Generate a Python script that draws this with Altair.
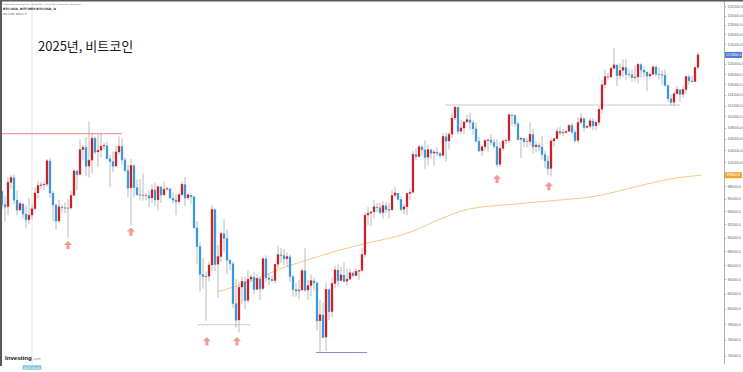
import altair as alt
import pandas as pd

# ---------------- data (daily BTC/USD, thousands of USD) ----------------
start_date = "2024-12-22"
first_open = 97.2
closes = [
    # Dec 22-31
    95.1, 94.7, 98.6, 99.4, 95.8, 94.2, 95.2, 93.6, 92.7, 93.4,
    # Jan
    94.4, 96.9, 98.1, 98.2, 98.3, 102.2, 96.9, 95.0, 92.5, 94.7,
    94.6, 94.5, 94.5, 96.5, 100.5, 99.9, 104.1, 104.5, 101.3, 102.3,
    106.1, 103.7, 104.0, 104.7, 104.8, 102.6, 102.1, 101.3, 103.7, 104.7, 102.4,
    # Feb
    100.6, 97.7, 101.4, 97.8, 96.6, 96.6, 96.5, 96.5, 96.1, 97.4,
    95.8, 97.9, 96.6, 97.5, 97.6, 96.1, 95.8, 95.5, 96.6, 98.3,
    96.1, 96.6, 96.3, 91.5, 88.7, 84.7, 84.4, 84.4,
    # Mar
    86.0, 94.3, 86.1, 87.2, 90.6, 89.9, 86.7, 86.2, 80.7, 78.5,
    82.9, 83.7, 81.1, 84.0, 84.3, 82.6, 84.1, 82.7, 86.9, 84.2,
    84.0, 83.8, 86.1, 87.5, 87.4, 86.9, 87.2, 84.4, 82.6, 82.4, 82.5,
    # Apr
    85.2, 82.5, 83.1, 83.8, 83.5, 78.4, 79.2, 76.3, 82.6, 79.6,
    83.4, 85.3, 83.8, 84.6, 83.7, 84.0, 84.9, 84.5, 85.1, 85.2,
    87.5, 93.4, 93.7, 93.9, 94.7, 94.6, 93.8, 94.9, 94.3, 94.2,
    # May
    96.5, 96.9, 95.9, 94.3, 94.7, 96.8, 97.0, 103.3, 102.9, 104.6,
    104.1, 102.8, 104.1, 103.5, 103.7, 103.5, 103.1, 106.4, 105.6, 106.8,
    109.7, 111.7, 107.3, 107.9, 109.0, 109.4, 108.9, 107.8, 105.6, 103.9, 104.6,
    # Jun
    105.7, 105.8, 105.4, 104.7, 101.6, 104.3, 105.6, 105.7, 110.3, 110.2,
    108.7, 105.9, 106.1, 105.5, 105.5, 106.8, 104.6, 104.9, 104.6, 103.3,
    102.2, 100.9, 105.6, 106.0, 107.3, 107.0, 107.1, 107.3, 108.4, 107.2,
    # Jul
    105.7, 108.9, 109.6, 108.0, 108.2, 109.2, 108.3, 108.9, 111.3, 115.9,
    117.5, 117.4, 119.1, 119.8, 117.7, 118.7, 119.3, 117.9, 117.9, 117.3,
    117.4, 119.9, 118.8, 118.4, 117.6, 117.9, 119.4, 118.0, 117.9, 117.8, 115.8,
    # Aug 1-11
    113.3, 112.6, 114.2, 115.0, 114.1, 115.0, 117.5, 116.7, 116.5, 119.3, 121.8,
]
highs = [
    97.4, 96.4, 99.4, 99.9, 99.9, 97.3, 95.5, 95.2, 94.9, 96.1,
    95.0, 97.8, 98.9, 98.7, 98.8, 102.5, 102.7, 97.2, 95.3, 95.8,
    95.0, 95.4, 95.9, 97.3, 100.7, 100.8, 105.9, 104.9, 106.3, 109.1,
    107.1, 106.4, 106.8, 107.1, 105.3, 105.5, 103.2, 103.8, 104.8, 106.4, 106.1,
    102.8, 101.5, 102.5, 101.7, 99.1, 99.2, 100.1, 96.9, 97.3, 98.3,
    98.5, 98.1, 98.0, 98.7, 97.9, 97.7, 97.0, 96.7, 96.9, 98.8,
    99.5, 96.9, 96.6, 96.5, 92.5, 89.3, 87.0, 85.1,
    86.5, 95.0, 94.4, 88.9, 90.9, 92.8, 91.2, 86.9, 86.5, 84.0,
    83.6, 84.4, 84.3, 85.3, 84.7, 85.0, 84.7, 84.1, 87.0, 87.4,
    84.8, 84.5, 86.2, 88.8, 88.5, 88.3, 87.8, 87.5, 84.6, 83.5, 83.9,
    85.5, 88.5, 83.9, 84.7, 84.2, 83.7, 81.2, 80.8, 83.5, 82.7,
    84.2, 85.9, 86.1, 85.8, 86.4, 85.5, 85.5, 85.1, 85.6, 85.3,
    88.5, 93.8, 94.7, 94.0, 95.8, 95.3, 95.3, 95.6, 95.5, 95.3,
    97.4, 97.9, 96.9, 96.3, 95.2, 96.9, 97.6, 103.9, 104.3, 104.9,
    104.9, 105.7, 104.9, 104.3, 104.1, 104.5, 103.7, 107.0, 107.1, 107.2,
    110.7, 111.9, 111.8, 109.4, 109.0, 110.4, 110.7, 109.3, 108.9, 106.3, 104.9,
    105.9, 105.9, 106.8, 106.0, 105.9, 105.4, 105.9, 106.0, 110.5, 110.4,
    110.4, 109.0, 106.2, 106.2, 106.1, 108.9, 107.7, 105.6, 105.3, 106.5,
    103.9, 103.1, 106.1, 106.3, 108.0, 108.2, 107.8, 107.6, 108.5, 108.8,
    107.6, 109.8, 110.6, 109.8, 108.4, 109.7, 109.7, 109.2, 111.9, 116.8,
    118.9, 118.2, 119.5, 123.2, 119.9, 120.1, 120.9, 120.9, 118.9, 118.9,
    119.7, 120.2, 120.1, 119.5, 118.5, 118.3, 119.8, 119.8, 119.3, 118.8, 118.9,
    116.1, 114.0, 114.7, 115.7, 115.1, 115.7, 117.6, 117.9, 117.7, 119.3, 122.3,
]
lows = [
    94.2, 92.4, 93.4, 97.6, 95.1, 93.4, 94.0, 92.9, 91.4, 92.0,
    92.8, 94.2, 96.1, 97.5, 97.3, 97.9, 96.1, 92.5, 91.2, 92.2,
    93.8, 93.7, 90.0, 94.3, 96.5, 97.3, 99.9, 102.3, 99.6, 99.4,
    100.1, 103.3, 101.2, 102.8, 104.1, 102.4, 97.8, 100.3, 101.3, 103.3, 101.5,
    100.3, 96.2, 91.8, 96.2, 96.5, 95.7, 95.7, 95.7, 94.7, 95.3,
    94.9, 94.1, 95.3, 96.4, 97.3, 96.1, 95.2, 93.4, 95.1, 96.4,
    94.8, 95.8, 95.2, 91.3, 86.1, 82.3, 82.7, 78.4,
    83.7, 85.1, 85.1, 81.5, 86.4, 87.9, 84.7, 85.3, 80.1, 77.5,
    76.9, 80.6, 79.9, 80.8, 83.6, 82.0, 82.5, 81.2, 82.5, 83.6,
    83.2, 83.7, 83.4, 85.5, 86.3, 85.9, 85.8, 83.6, 81.6, 81.6, 81.3,
    82.4, 82.3, 81.2, 81.7, 82.4, 77.2, 74.5, 76.2, 74.6, 78.5,
    78.9, 82.8, 83.0, 83.7, 83.6, 83.1, 83.9, 84.3, 84.4, 83.9,
    85.1, 87.1, 91.9, 91.7, 92.9, 93.9, 93.6, 92.9, 93.7, 92.9,
    94.1, 96.3, 95.7, 94.1, 93.5, 93.4, 95.8, 96.9, 102.3, 102.8,
    103.1, 100.8, 101.4, 102.6, 101.4, 103.1, 102.6, 102.9, 102.1, 104.2,
    106.2, 109.3, 106.8, 106.9, 106.8, 108.7, 107.5, 106.7, 105.4, 103.7, 103.1,
    103.9, 103.7, 104.9, 104.2, 101.2, 101.2, 103.9, 105.0, 105.3, 108.4,
    108.1, 105.7, 102.7, 104.5, 104.5, 104.9, 103.4, 103.6, 103.9, 102.4,
    101.0, 99.8, 99.6, 104.7, 105.9, 106.6, 106.4, 106.9, 107.2, 106.8,
    105.3, 105.2, 108.6, 107.3, 107.8, 107.8, 107.5, 107.5, 108.4, 110.6,
    115.2, 116.9, 117.2, 118.9, 115.7, 117.0, 117.4, 116.8, 117.3, 116.5,
    116.5, 116.1, 117.3, 117.4, 114.7, 117.2, 117.9, 117.5, 116.9, 115.9, 115.6,
    112.7, 112.0, 111.9, 114.1, 112.7, 113.4, 114.3, 115.9, 116.4, 116.5, 118.9,
]

# 200-day moving average (day offset from 2025-01-01, price k)
ma_days = [62, 70, 83, 96, 109, 117, 126, 136, 145, 160, 174, 188, 202, 213, 223]
ma_vals = [82.3, 83.3, 85.5, 87.3, 88.9, 89.7, 90.8, 92.8, 94.3, 95.1, 95.7, 96.4, 98.0, 99.2, 99.8]

# drawn horizontal levels: (from day, to day, price k, colour)
levels_from = [-10.3, 137.7, 55.3, 94.7]
levels_to = [30.0, 216.0, 72.7, 111.7]
levels_price = [106.9, 112.1, 77.9, 74.4]
levels_color = ["#f0837c", "#c9c9c9", "#c8c6f0", "#8f8ad8"]

# up-arrow markers (day offset, price k)
arrow_days = [12.0, 33.0, 58.3, 68.3, 155.0, 172.3]
arrow_prices = [88.9, 90.9, 75.8, 75.8, 99.2, 98.0]

# right-axis labels (the two covered by the price tags are left out)
y_ticks = [v for v in range(74000, 132001, 2000) if v not in (100000, 122000)]

# ---------------- tables ----------------
dates = pd.date_range(start_date, periods=len(closes), freq="D")
opens = [first_open] + closes[:-1]
day = (dates - pd.Timestamp("2025-01-01")).days
df = pd.DataFrame({
    "day": day,
    "date": dates.strftime("%Y-%m-%d"),
    "open": [v * 1000 for v in opens],
    "close": [v * 1000 for v in closes],
    "high": [max(h, o, c) * 1000 for h, o, c in zip(highs, opens, closes)],
    "low": [min(l, o, c) * 1000 for l, o, c in zip(lows, opens, closes)],
})
df["dir"] = ["up" if c >= o else "down" for o, c in zip(df["open"], df["close"])]

ma_df = pd.DataFrame({"day": ma_days, "ma": [v * 1000 for v in ma_vals]})
lv_df = pd.DataFrame({"d1": levels_from, "d2": levels_to,
                      "p": [v * 1000 for v in levels_price], "c": levels_color})
ar_df = pd.DataFrame({"day": arrow_days, "p": [v * 1000 for v in arrow_prices]})

W, H = 724, 364
xs = alt.Scale(domain=[-32 / 3, 692 / 3], nice=False, zero=False, padding=0)
ys = alt.Scale(type="log", domain=[73000, 133400], nice=False, zero=False, padding=0)

base = alt.Chart(df)

yaxis = alt.Axis(orient="right", values=y_ticks, format=".1f", title=None,
                 labelFontSize=3.7, labelColor="#666", labelFont="Liberation Sans",
                 domainColor="#b0b0b0", tickColor="#b0b0b0", tickSize=1.5,
                 labelPadding=1.5, grid=False, zindex=0)

vline = alt.Chart(pd.DataFrame({"day": [0]})).mark_rule(color="#d4eef2", strokeWidth=1).encode(
    x=alt.X("day:Q", scale=xs, axis=None), y=alt.value(0), y2=alt.value(H))

wicks = base.mark_rule(color="#a8a8a8", strokeWidth=0.8).encode(
    x=alt.X("day:Q", scale=xs, axis=alt.Axis(orient="bottom", labels=False, ticks=False,
                                             domainColor="#cfcfcf", title=None, grid=False)),
    y=alt.Y("low:Q", scale=ys, axis=yaxis),
    y2="high:Q",
)
cscale = alt.Scale(domain=["up", "down"], range=["#c8232b", "#3d98d8"])
bodies = base.mark_bar(width=2.3).encode(
    x="day:Q", y="open:Q", y2="close:Q",
    color=alt.Color("dir:N", scale=cscale, legend=None),
)
dojis = base.mark_tick(orient="horizontal", size=2.3, thickness=0.8).encode(
    x="day:Q", y="close:Q", color=alt.Color("dir:N", scale=cscale, legend=None))

ma_line = alt.Chart(ma_df).mark_line(color="#f6c98a", strokeWidth=1, interpolate="monotone").encode(
    x="day:Q", y="ma:Q")

levels = alt.Chart(lv_df).mark_rule(strokeWidth=1).encode(
    x="d1:Q", x2="d2:Q", y="p:Q", color=alt.Color("c:N", scale=None))

arrow_path = "M0,-1 L1,0 L0.38,0 L0.38,1 L-0.38,1 L-0.38,0 L-1,0 Z"
arrows = alt.Chart(ar_df).mark_point(shape=arrow_path, filled=True, size=70,
                                     color="#f29b9b", opacity=1).encode(x="day:Q", y="p:Q")

# price labels on the axis
last_close = closes[-1] * 1000
last_ma = ma_vals[-1] * 1000
tags = pd.DataFrame({"p": [last_close, last_ma],
                     "t": [f"{last_close:.1f}", f"{last_ma:.1f}"],
                     "c": ["#4b78de", "#f4a42c"]})
tag_box = alt.Chart(tags).mark_tick(orient="horizontal", size=17, thickness=6, opacity=1).encode(
    x=alt.value(733.5), y="p:Q", color=alt.Color("c:N", scale=None))
tag_txt = alt.Chart(tags).mark_text(fontSize=3.7, color="white", font="Liberation Sans",
                                    align="center", baseline="middle").encode(
    x=alt.value(733.5), y="p:Q", text="t:N")

# texts
title = alt.Chart(pd.DataFrame({"t": ["2025년, 비트코인"]})).mark_text(
    font="Noto Sans CJK KR", fontSize=13, color="#1a1a1a", align="left", baseline="alphabetic"
).encode(x=alt.value(38), y=alt.value(51), text="t:N")

hdr_texts = ["Published on Investing.com, 11/Aug/2025 - 2:15:21 GMT, Powered by TradingView.",
             "BTC/USD, BITFINEX:BTC/USD, D",
             "MA (200) 99811.0"]
hdr1 = alt.Chart(pd.DataFrame({"t": [hdr_texts[0]]})).mark_text(
    fontSize=1.9, color="#555", align="left", baseline="middle", font="DejaVu Sans").encode(
    x=alt.value(3), y=alt.value(4), text="t:N")
hdr2 = alt.Chart(pd.DataFrame({"t": [hdr_texts[1]]})).mark_text(
    fontSize=3.0, color="#333", fontWeight="bold", align="left", baseline="middle",
    font="DejaVu Sans").encode(x=alt.value(3), y=alt.value(8.5), text="t:N")
hdr3 = alt.Chart(pd.DataFrame({"t": [hdr_texts[2]]})).mark_text(
    fontSize=2.6, color="#555", align="left", baseline="middle", font="DejaVu Sans").encode(
    x=alt.value(3), y=alt.value(14.5), text="t:N")

logo = alt.Chart(pd.DataFrame({"t": ["Investing"]})).mark_text(
    fontSize=6.1, fontWeight="bold", color="#111", align="left", baseline="alphabetic",
    font="Liberation Sans").encode(x=alt.value(5), y=alt.value(359.5), text="t:N")
logo2 = alt.Chart(pd.DataFrame({"t": [".com"]})).mark_text(
    fontSize=3.6, color="#888", align="left", baseline="alphabetic",
    font="Liberation Sans").encode(x=alt.value(32.8), y=alt.value(359.5), text="t:N")

datebox = alt.Chart(pd.DataFrame({"day": [0], "t": ["2025-01-01"]})).mark_tick(
    orient="horizontal", size=19, thickness=4.5, color="#7ec6d8", opacity=1).encode(
    x="day:Q", y=alt.value(367.5))
datetxt = alt.Chart(pd.DataFrame({"day": [0], "t": ["2025-01-01"]})).mark_text(
    fontSize=3, color="white", align="center", baseline="middle", font="DejaVu Sans").encode(
    x="day:Q", y=alt.value(367.5), text="t:N")

border_top = alt.Chart(pd.DataFrame({"a": [0]})).mark_rule(color="#5a5a5a", strokeWidth=1.5).encode(
    x=alt.value(0), x2=alt.value(743), y=alt.value(0.75))
border_left = alt.Chart(pd.DataFrame({"a": [0]})).mark_rule(color="#5a5a5a", strokeWidth=2).encode(
    x=alt.value(1), y=alt.value(0), y2=alt.value(366))

chart = alt.layer(
    vline, levels, ma_line, wicks, bodies, dojis, arrows, tag_box, tag_txt,
    title, hdr1, hdr2, hdr3, logo, logo2, datebox, datetxt, border_top, border_left,
).properties(
    width=W, height=H,
    autosize=alt.AutoSizeParams(type="none"),
    padding={"left": 0, "top": 0, "right": 19, "bottom": 8},
    background="white",
).configure_view(stroke=None)

chart.save("out.html", embed_options={"renderer": "svg", "actions": False})
